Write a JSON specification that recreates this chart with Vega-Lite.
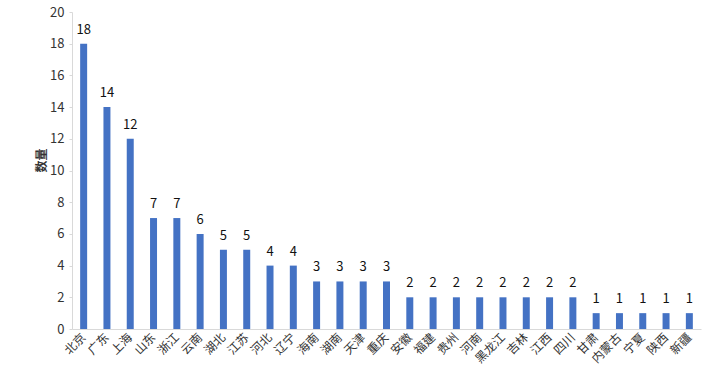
{
  "$schema": "https://vega.github.io/schema/vega-lite/v6.json",
  "width": 629,
  "height": 317,
  "autosize": {"type": "none"},
  "padding": {"left": 72, "top": 12, "right": 3, "bottom": 38},
  "background": "white",
  "config": {"view": {"stroke": null}, "font": "Noto Sans CJK SC"},
  "data": {"values": [
    {"p": "北京", "v": 18}, {"p": "广东", "v": 14}, {"p": "上海", "v": 12},
    {"p": "山东", "v": 7}, {"p": "浙江", "v": 7}, {"p": "云南", "v": 6},
    {"p": "湖北", "v": 5}, {"p": "江苏", "v": 5}, {"p": "河北", "v": 4},
    {"p": "辽宁", "v": 4}, {"p": "海南", "v": 3}, {"p": "湖南", "v": 3},
    {"p": "天津", "v": 3}, {"p": "重庆", "v": 3}, {"p": "安徽", "v": 2},
    {"p": "福建", "v": 2}, {"p": "贵州", "v": 2}, {"p": "河南", "v": 2},
    {"p": "黑龙江", "v": 2}, {"p": "吉林", "v": 2}, {"p": "江西", "v": 2},
    {"p": "四川", "v": 2}, {"p": "甘肃", "v": 1}, {"p": "内蒙古", "v": 1},
    {"p": "宁夏", "v": 1}, {"p": "陕西", "v": 1}, {"p": "新疆", "v": 1}
  ]},
  "encoding": {
    "x": {"field": "p", "type": "nominal", "sort": null,
      "scale": {"paddingInner": 0.7, "paddingOuter": 0.35},
      "axis": {"title": null, "labelAngle": -45, "labelAlign": "right", "labelBaseline": "middle",
        "labelFontSize": 12, "labelColor": "#333", "ticks": false, "domainColor": "#d9d9d9", "labelPadding": 6, "labelOverlap": false}},
    "y": {"field": "v", "type": "quantitative",
      "scale": {"domain": [0, 20]},
      "axis": {"title": "数量", "values": [0,2,4,6,8,10,12,14,16,18,20], "grid": false, "labelOverlap": false,
        "domainColor": "#d9d9d9", "tickColor": "#d9d9d9", "tickSize": 3, "labelFontSize": 13, "labelColor": "#333",
        "labelPadding": 5, "titleFontSize": 12, "titleFontWeight": "bold", "titleColor": "#333",
        "titleX": -24, "titleY": 148, "titleAngle": -90}}
  },
  "layer": [
    {"mark": {"type": "bar", "color": "#4472C4"}},
    {"mark": {"type": "text", "dy": -14, "fontSize": 13, "color": "#111"}, "encoding": {"text": {"field": "v"}}}
  ]
}
